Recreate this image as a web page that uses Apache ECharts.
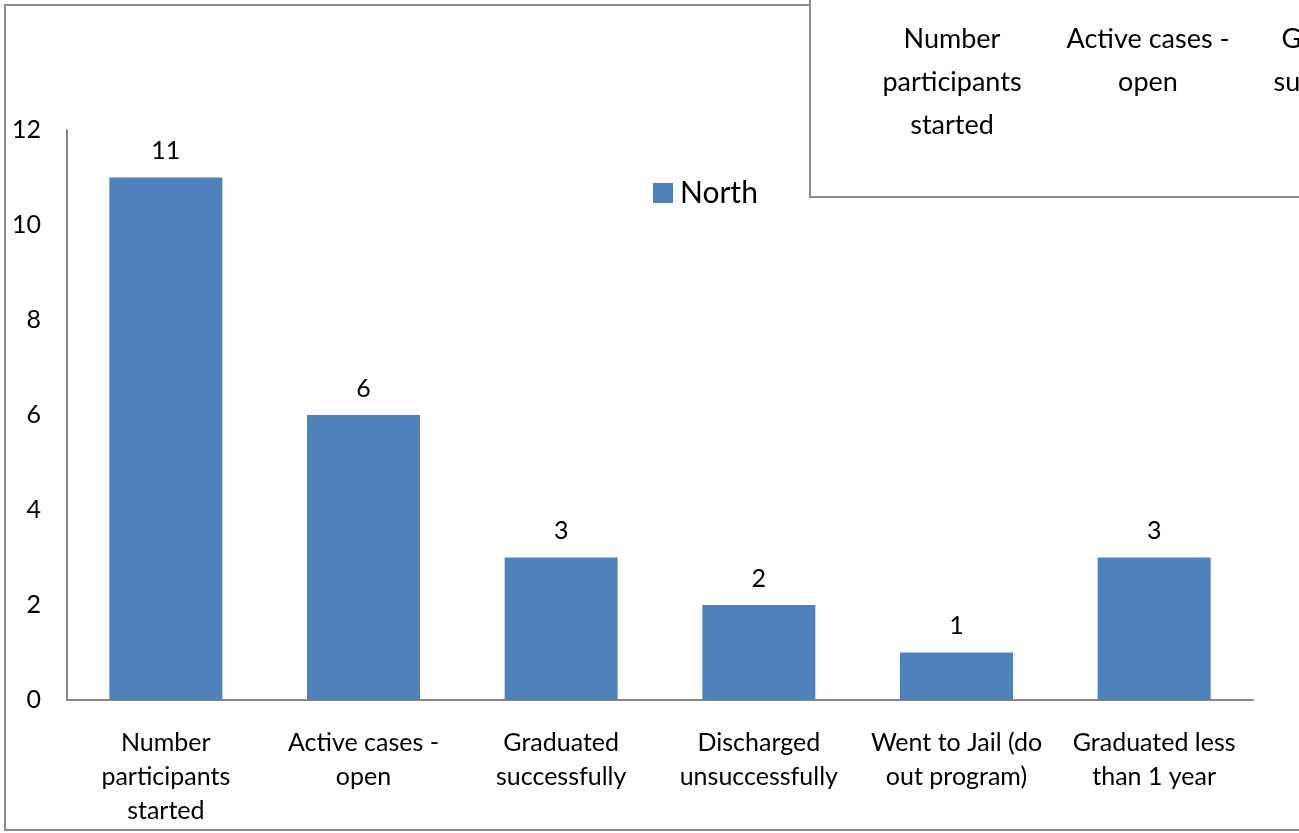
<!DOCTYPE html>
<html>
<head>
<meta charset="utf-8">
<title>North</title>
<script src="https://cdn.jsdelivr.net/npm/echarts@6/dist/echarts.min.js"></script>
<style>
  html, body { margin: 0; padding: 0; background: #fff; }
  #chart { width: 1299px; height: 833px; }
</style>
</head>
<body>
<div id="chart"></div>
<script>
// Program outcome counts for the North region
const categories = [
  'Number\nparticipants\nstarted',
  'Active cases -\nopen',
  'Graduated\nsuccessfully',
  'Discharged\nunsuccessfully',
  'Went to Jail (do\nout program)',
  'Graduated less\nthan 1 year'
];
const seriesName = 'North';
const northValues = [11, 6, 3, 2, 1, 3];
const yTicks = { min: 0, max: 12, interval: 2 };

const FONT = 'Lato, "Open Sans", sans-serif';
const AXIS_GREY = '#868686';
const BAR_BLUE = '#4F81BD';

const chart = echarts.init(document.getElementById('chart'), null, { renderer: 'canvas' });

chart.setOption({
  animation: false,
  backgroundColor: '#ffffff',
  textStyle: { fontFamily: FONT },
  graphic: [
    {
      // outer chart frame
      type: 'rect', z: 0,
      shape: { x: 5, y: 5, width: 1400, height: 825 },
      style: { fill: 'none', stroke: '#8c8c8c', lineWidth: 2 }
    },
    {
      // panel overlapping the top-right corner
      type: 'rect', z: 1,
      shape: { x: 810, y: -10, width: 600, height: 207 },
      style: { fill: '#ffffff', stroke: '#8c8c8c', lineWidth: 2 }
    }
  ],
  legend: {
    data: [seriesName],
    left: 648,
    top: 173,
    icon: 'rect',
    itemWidth: 20,
    itemHeight: 20,
    itemGap: 10,
    textStyle: { fontSize: 30, color: '#000', fontFamily: FONT, padding: [0, 0, 0, 2] }
  },
  grid: [
    { left: 67, right: 46, top: 130, bottom: 133, outerBoundsMode: 'none' },
    { left: 854, width: 1176, top: 0, height: 10, outerBoundsMode: 'none' }
  ],
  xAxis: [
    {
      type: 'category',
      gridIndex: 0,
      data: categories,
      axisLine: { show: true, lineStyle: { color: AXIS_GREY, width: 2 } },
      axisTick: { show: false },
      axisLabel: {
        interval: 0,
        margin: 26,
        color: '#000',
        fontSize: 25,
        lineHeight: 34,
        fontFamily: FONT
      }
    },
    {
      type: 'category',
      gridIndex: 1,
      data: categories,
      z: 5,
      axisLine: { show: false },
      axisTick: { show: false },
      axisLabel: {
        interval: 0,
        margin: 8,
        color: '#000',
        fontSize: 27,
        lineHeight: 43,
        fontFamily: FONT
      }
    }
  ],
  yAxis: [
    {
      type: 'value',
      gridIndex: 0,
      min: yTicks.min,
      max: yTicks.max,
      interval: yTicks.interval,
      axisLine: { show: true, lineStyle: { color: AXIS_GREY, width: 2 } },
      axisTick: { show: false },
      splitLine: { show: false },
      axisLabel: { margin: 26, color: '#000', fontSize: 25, fontFamily: FONT }
    },
    {
      type: 'value',
      gridIndex: 1,
      show: false
    }
  ],
  series: [
    {
      name: seriesName,
      type: 'bar',
      xAxisIndex: 0,
      yAxisIndex: 0,
      data: northValues,
      barWidth: 113,
      itemStyle: { color: BAR_BLUE },
      label: {
        show: true,
        position: 'top',
        distance: 14,
        color: '#000',
        fontSize: 25,
        fontFamily: FONT
      }
    }
  ]
});
</script>
</body>
</html>
